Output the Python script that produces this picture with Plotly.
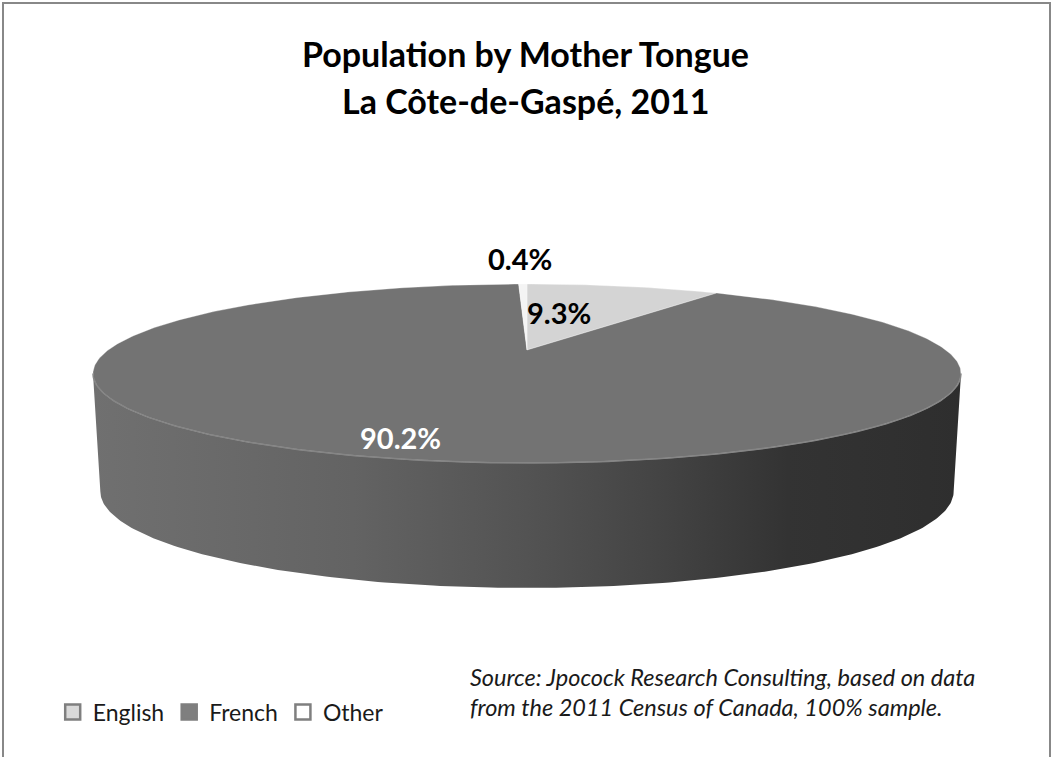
import math
import plotly.graph_objects as go

# ---------------- data ----------------
categories = ["English", "French", "Other"]
values = [9.3, 90.2, 0.4]
labels = ["9.3%", "90.2%", "0.4%"]
top_colors = ["#d4d4d4", "#737373", "#f4f4f4"]
legend_colors = ["#d9d9d9", "#7f7f7f", "#ffffff"]
title_lines = ["Population by Mother Tongue", "La Côte-de-Gaspé, 2011"]
source_lines = ["Source: Jpocock Research Consulting, based on data",
                "from the 2011 Census of Canada, 100% sample."]

# ---------------- geometry (perspective pie) ----------------
W, H = 1054, 757
CX, CY = 527, 350      # projected pie centre
A, B = 83.3, 418.8     # vertical / horizontal radius factors
K = 0.2626             # perspective factor
DEPTH = 125            # side height at the front
SHRINK = 0.983         # bottom rim narrowing


def wfac(t):
    return 1 + K * math.cos(t)


def top_pt(t):
    w = wfac(t)
    return CX + B * math.sin(t) / w, CY - A * math.cos(t) / w


def bot_pt(t):
    w = wfac(t)
    x, y = top_pt(t)
    d = DEPTH * ((1 - K) / w) ** 0.25
    return CX + (x - CX) * SHRINK, y + d


def arc(t0, t1, n=200):
    return [t0 + (t1 - t0) * i / n for i in range(n + 1)]


total = sum(values)
bounds = []
acc = 0.0
for v in values:
    a0 = acc / total * 2 * math.pi
    acc += v
    a1 = acc / total * 2 * math.pi
    bounds.append((a0, a1))

vis0 = math.acos(-K)
vis1 = 2 * math.pi - math.acos(-K)

fig = go.Figure()

# sides
for (a0, a1), c in zip(bounds, top_colors):
    s0, s1 = max(a0, vis0), min(a1, vis1)
    if s1 <= s0:
        continue
    ts = arc(s0, s1)
    top = [top_pt(t) for t in ts]
    bot = [bot_pt(t) for t in reversed(ts)]
    pts = top + bot + [top[0]]
    fig.add_trace(go.Scatter(
        x=[p[0] for p in pts], y=[p[1] for p in pts], mode="lines",
        line=dict(width=0), fill="toself",
        fillgradient=dict(type="horizontal", start=CX - 435, stop=CX + 435,
                          colorscale=[[0, "#707070"], [0.3, "#636363"], [0.5, "#535353"],
                                      [0.65, "#444444"], [0.8, "#333333"], [1, "#2e2e2e"]]),
        hoverinfo="skip", showlegend=False))

# top faces
for (a0, a1), c in zip(bounds, top_colors):
    ts = arc(a0, a1, max(4, int((a1 - a0) * 80)))
    pts = [(CX, CY)] + [top_pt(t) for t in ts] + [(CX, CY)]
    fig.add_trace(go.Scatter(
        x=[p[0] for p in pts], y=[p[1] for p in pts], mode="lines",
        line=dict(width=0.7, color="rgba(255,255,255,0.45)"), fill="toself",
        fillcolor=c, hoverinfo="skip", showlegend=False))

# light rim along the visible front edge
ts = arc(vis0, vis1)
fig.add_trace(go.Scatter(
    x=[top_pt(t)[0] for t in ts], y=[top_pt(t)[1] for t in ts], mode="lines",
    line=dict(width=1.5, color="#858585"), hoverinfo="skip", showlegend=False))

# legend entries
for name, c in zip(categories, legend_colors):
    fig.add_trace(go.Scatter(
        x=[None], y=[None], mode="markers", name=name,
        marker=dict(symbol="square", size=15, color=c,
                    line=dict(color="#7f7f7f", width=2.5))))

# data labels
label_pos = [(559, 312), (400, 437), (520, 258)]
label_col = ["#000000", "#ffffff", "#000000"]
for txt, (lx, ly), lc in zip(labels, label_pos, label_col):
    fig.add_annotation(x=lx, y=ly, text="<b>%s</b>" % txt, showarrow=False,
                       font=dict(family="Lato", size=29, color=lc),
                       xanchor="center", yanchor="middle")

# title
for line, ty in zip(title_lines, [53, 100]):
    fig.add_annotation(x=525, y=ty, text="<b>%s</b>" % line, showarrow=False,
                       font=dict(family="Lato", size=34, color="#000000"),
                       xanchor="center", yanchor="middle")

# source note
for line, sy in zip(source_lines, [677, 707]):
    fig.add_annotation(x=468, y=sy, text="<i>%s</i>" % line, showarrow=False,
                       font=dict(family="Lato", size=23.5, color="#1a1a1a"),
                       xanchor="left", yanchor="middle")

# chart frame
fig.add_shape(type="rect", x0=3, y0=3, x1=1050, y1=775, xref="x", yref="y",
              line=dict(color="#888888", width=2))

fig.update_layout(
    width=W, height=H, margin=dict(l=0, r=0, t=0, b=0),
    paper_bgcolor="white", plot_bgcolor="white",
    xaxis=dict(range=[0, W], visible=False, fixedrange=True),
    yaxis=dict(range=[H, 0], visible=False, fixedrange=True),
    legend=dict(orientation="h", x=0.05, y=1 - 712 / H, xanchor="left", yanchor="middle",
                font=dict(family="Lato", size=23, color="#1a1a1a"),
                itemwidth=30, bgcolor="rgba(0,0,0,0)"),
    showlegend=True,
)

fig.write_html("out.html")
